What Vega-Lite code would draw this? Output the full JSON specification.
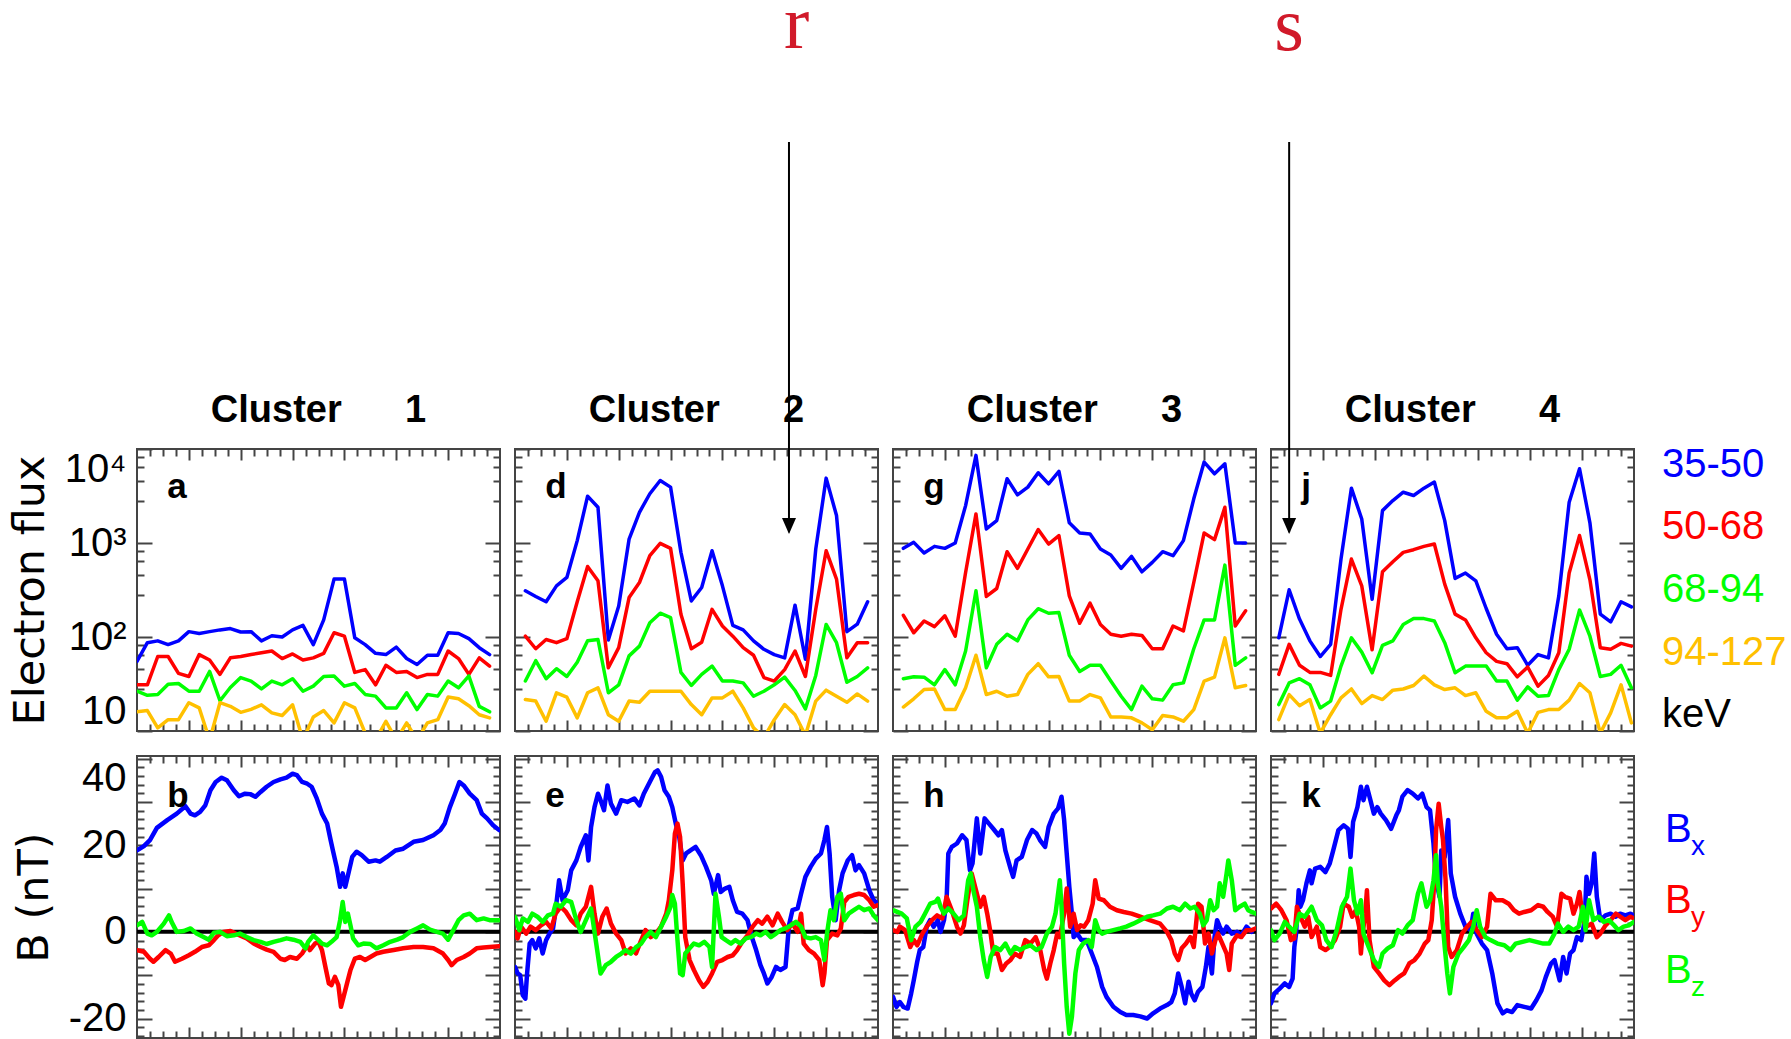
{
  "$schema": "https://vega.github.io/schema/vega-lite/v6.json",
  "autosize": {"type": "none"},
  "padding": {"left": 137, "top": 449, "right": 1654, "bottom": 590},
  "background": "#ffffff",
  "config": {
    "view": {"stroke": "#444444", "strokeWidth": 2},
    "axis": {"domain": false, "grid": false, "tickColor": "#444444", "tickWidth": 2, "labelFont": "Liberation Sans, Arial, sans-serif", "labelFontSize": 40, "labelColor": "#000000", "labelOverlap": false, "labelBound": false, "titleFont": "DejaVu Sans", "titleFontSize": 43, "titleFontWeight": "normal", "titleColor": "#000000"},
    "line": {"strokeJoin": "round", "strokeCap": "round"}
  },
  "datasets": {
    "flux1": [
      {"t":0,"e35":55,"e50":31,"e68":26.5,"e94":16},{"t":12,"e35":87,"e50":31,"e68":24,"e94":16.5},{"t":24,"e35":91,"e50":62,"e68":24.5,"e94":10.8},{"t":36,"e35":83,"e50":62,"e68":31.5,"e94":13.2},{"t":48,"e35":91,"e50":41,"e68":32,"e94":13.2},{"t":60,"e35":114,"e50":38,"e68":26.5,"e94":20},{"t":72,"e35":109,"e50":65,"e68":26.5,"e94":17.6},{"t":84,"e35":114,"e50":57,"e68":43,"e94":8},{"t":96,"e35":119,"e50":40,"e68":21,"e94":20},{"t":108,"e35":123,"e50":60,"e68":29,"e94":18.3},{"t":120,"e35":113,"e50":62,"e68":37,"e94":15.8},{"t":132,"e35":114,"e50":65,"e68":34,"e94":17},{"t":144,"e35":91,"e50":68,"e68":28,"e94":19},{"t":156,"e35":103,"e50":71,"e68":34,"e94":15.6},{"t":168,"e35":100,"e50":59,"e68":31,"e94":14.6},{"t":180,"e35":119,"e50":66,"e68":36,"e94":19},{"t":192,"e35":133,"e50":57,"e68":26.5,"e94":8},{"t":204,"e35":83,"e50":60,"e68":30,"e94":14.1},{"t":216,"e35":152,"e50":67,"e68":38,"e94":16.5},{"t":228,"e35":413,"e50":111,"e68":38.5,"e94":12.2},{"t":240,"e35":413,"e50":102,"e68":30,"e94":20},{"t":252,"e35":98,"e50":42,"e68":32,"e94":17.6},{"t":264,"e35":83,"e50":45,"e68":24.5,"e94":9.5},{"t":276,"e35":67,"e50":31,"e68":23.5,"e94":8},{"t":288,"e35":65,"e50":50,"e68":17.6,"e94":12.7},{"t":300,"e35":78,"e50":42,"e68":17.6,"e94":8},{"t":312,"e35":59,"e50":43,"e68":25.5,"e94":12.2},{"t":324,"e35":51,"e50":37,"e68":16.9,"e94":8},{"t":336,"e35":64,"e50":40,"e68":24.5,"e94":12.2},{"t":348,"e35":64,"e50":40,"e68":23.5,"e94":13.2},{"t":360,"e35":111,"e50":71,"e68":34,"e94":23},{"t":372,"e35":109,"e50":59,"e68":28.8,"e94":22},{"t":384,"e35":96,"e50":40,"e68":38.5,"e94":18.6},{"t":396,"e35":77,"e50":60,"e68":18.3,"e94":14.9},{"t":408,"e35":65,"e50":49,"e68":16,"e94":13.8}
    ],
    "flux2": [
      {"t":12,"e35":310,"e50":102,"e68":34,"e94":21.6},{"t":24,"e35":270,"e50":75,"e68":56,"e94":20.8},{"t":36,"e35":237,"e50":94,"e68":36,"e94":12.7},{"t":48,"e35":350,"e50":87,"e68":46,"e94":25.5},{"t":60,"e35":430,"e50":96,"e68":38,"e94":22.9},{"t":72,"e35":1060,"e50":237,"e68":54,"e94":13.8},{"t":84,"e35":3150,"e50":563,"e68":91,"e94":25.5},{"t":96,"e35":2400,"e50":396,"e68":94,"e94":28.8},{"t":108,"e35":93,"e50":47,"e68":25.5,"e94":14.9},{"t":120,"e35":214,"e50":77,"e68":31,"e94":12.7},{"t":132,"e35":1100,"e50":263,"e68":63,"e94":20.8},{"t":144,"e35":2120,"e50":380,"e68":80,"e94":20.2},{"t":156,"e35":3340,"e50":733,"e68":142,"e94":26.5},{"t":168,"e35":4620,"e50":991,"e68":179,"e94":26.5},{"t":180,"e35":3930,"e50":877,"e68":161,"e94":26.5},{"t":192,"e35":795,"e50":175,"e68":42,"e94":26.5},{"t":204,"e35":242,"e50":75,"e68":30.5,"e94":19.1},{"t":216,"e35":336,"e50":88,"e68":40,"e94":14.9},{"t":228,"e35":828,"e50":197,"e68":49,"e94":22.5},{"t":240,"e35":350,"e50":131,"e68":34,"e94":22.5},{"t":252,"e35":133,"e50":102,"e68":34,"e94":26.5},{"t":264,"e35":119,"e50":77,"e68":32.5,"e94":17.6},{"t":276,"e35":91,"e50":64,"e68":23.4,"e94":10.8},{"t":288,"e35":74,"e50":37,"e68":26.5,"e94":8.5},{"t":300,"e35":65,"e50":34,"e68":31,"e94":13.2},{"t":312,"e35":60,"e50":45,"e68":37.4,"e94":19.1},{"t":324,"e35":218,"e50":71,"e68":27,"e94":14.9},{"t":336,"e35":58,"e50":38,"e68":17.2,"e94":9},{"t":348,"e35":863,"e50":197,"e68":39,"e94":20.8},{"t":360,"e35":4900,"e50":828,"e68":136,"e94":27.2},{"t":372,"e35":1960,"e50":413,"e68":87,"e94":23.4},{"t":384,"e35":114,"e50":60,"e68":33,"e94":20.2},{"t":396,"e35":137,"e50":87,"e68":38,"e94":24.8},{"t":408,"e35":237,"e50":87,"e68":47,"e94":20.8}
    ],
    "flux3": [
      {"t":12,"e35":877,"e50":170,"e68":36,"e94":18},{"t":24,"e35":1016,"e50":111,"e68":37.7,"e94":22},{"t":36,"e35":782,"e50":148,"e68":37.4,"e94":27.6},{"t":48,"e35":921,"e50":129,"e68":31,"e94":28},{"t":60,"e35":877,"e50":168,"e68":45,"e94":16.9},{"t":72,"e35":1000,"e50":102,"e68":31,"e94":16.9},{"t":84,"e35":2500,"e50":486,"e68":71,"e94":28.8},{"t":96,"e35":8550,"e50":2040,"e68":310,"e94":64},{"t":108,"e35":1410,"e50":270,"e68":47,"e94":24.4},{"t":120,"e35":1730,"e50":328,"e68":83.5,"e94":26.5},{"t":132,"e35":4820,"e50":808,"e68":107,"e94":23.4},{"t":144,"e35":3250,"e50":537,"e68":91,"e94":24.4},{"t":156,"e35":3930,"e50":863,"e68":152,"e94":40},{"t":168,"e35":5590,"e50":1390,"e68":200,"e94":52},{"t":180,"e35":4260,"e50":975,"e68":179,"e94":37.7},{"t":192,"e35":5780,"e50":1200,"e68":182,"e94":38},{"t":204,"e35":1640,"e50":274,"e68":64,"e94":20.8},{"t":216,"e35":1280,"e50":140,"e68":43,"e94":20.8},{"t":228,"e35":1250,"e50":229,"e68":50,"e94":24.4},{"t":240,"e35":863,"e50":136,"e68":50,"e94":22.5},{"t":252,"e35":745,"e50":107,"e68":34,"e94":14.1},{"t":264,"e35":537,"e50":102,"e68":23.4,"e94":14.1},{"t":276,"e35":721,"e50":107,"e68":16.9,"e94":13.8},{"t":288,"e35":494,"e50":104,"e68":30,"e94":12.2},{"t":300,"e35":622,"e50":75,"e68":22,"e94":10.3},{"t":312,"e35":808,"e50":75,"e68":21.3,"e94":14.6},{"t":324,"e35":733,"e50":131,"e68":31,"e94":14.1},{"t":336,"e35":1060,"e50":116,"e68":32.5,"e94":12.7},{"t":348,"e35":2950,"e50":380,"e68":75,"e94":16.9},{"t":360,"e35":7260,"e50":1280,"e68":152,"e94":34},{"t":372,"e35":5450,"e50":1086,"e68":152,"e94":37.4},{"t":384,"e35":6970,"e50":2400,"e68":582,"e94":98},{"t":396,"e35":1000,"e50":131,"e68":50,"e94":28.8},{"t":408,"e35":1000,"e50":190,"e68":60,"e94":30.5}
    ],
    "flux4": [
      {"t":9,"e35":98,"e50":40,"e68":19.1,"e94":13.2},{"t":21,"e35":318,"e50":83.5,"e68":32.5,"e94":24.4},{"t":33,"e35":155,"e50":50,"e68":36,"e94":18.6},{"t":45,"e35":91,"e50":42,"e68":31,"e94":21.6},{"t":57,"e35":62,"e50":42,"e68":17.6,"e94":9.5},{"t":69,"e35":83.5,"e50":39,"e68":20.8,"e94":14.9},{"t":81,"e35":675,"e50":197,"e68":49,"e94":22.5},{"t":93,"e35":3830,"e50":675,"e68":98,"e94":28},{"t":105,"e35":1800,"e50":350,"e68":69,"e94":19.6},{"t":117,"e35":252,"e50":73,"e68":41.6,"e94":23.8},{"t":129,"e35":2210,"e50":494,"e68":81.5,"e94":21.6},{"t":141,"e35":2830,"e50":632,"e68":91,"e94":27.2},{"t":153,"e35":3470,"e50":795,"e68":136,"e94":28},{"t":165,"e35":3200,"e50":849,"e68":157,"e94":30.5},{"t":177,"e35":3830,"e50":921,"e68":157,"e94":38.4},{"t":189,"e35":4450,"e50":975,"e68":148,"e94":31},{"t":201,"e35":1730,"e50":365,"e68":87,"e94":27.6},{"t":213,"e35":420,"e50":175,"e68":41.6,"e94":28.8},{"t":225,"e35":479,"e50":152,"e68":49,"e94":23.8},{"t":237,"e35":396,"e50":98,"e68":49,"e94":25.5},{"t":249,"e35":201,"e50":68,"e68":49,"e94":16.2},{"t":261,"e35":107,"e50":55,"e68":34,"e94":13.8},{"t":273,"e35":75,"e50":52,"e68":34,"e94":13.8},{"t":285,"e35":77,"e50":37.7,"e68":21.3,"e94":16.2},{"t":297,"e35":50,"e50":48,"e68":29.5,"e94":9.5},{"t":309,"e35":65,"e50":30,"e68":23.4,"e94":15.8},{"t":321,"e35":60,"e50":39,"e68":23.8,"e94":16.9},{"t":333,"e35":274,"e50":68,"e68":45,"e94":16.9},{"t":345,"e35":2720,"e50":479,"e68":74,"e94":21.3},{"t":357,"e35":6170,"e50":1200,"e68":194,"e94":32},{"t":369,"e35":1640,"e50":406,"e68":102,"e94":25.5},{"t":381,"e35":175,"e50":77,"e68":38,"e94":9.5},{"t":393,"e35":144.5,"e50":74,"e68":40,"e94":15.6},{"t":405,"e35":237,"e50":85.5,"e68":50,"e94":31},{"t":417,"e35":209,"e50":80,"e68":28.8,"e94":12.2}
    ],
    "mag1": [
      {"t":0,"c":"Bx","v":18.8},{"t":8,"c":"Bx","v":19.8},{"t":15,"c":"Bx","v":21.2},{"t":23,"c":"Bx","v":24},{"t":35,"c":"Bx","v":25.8},{"t":46,"c":"Bx","v":27.3},{"t":56,"c":"Bx","v":29},{"t":62,"c":"Bx","v":27.3},{"t":67,"c":"Bx","v":26.9},{"t":73,"c":"Bx","v":27.7},{"t":79,"c":"Bx","v":29.2},{"t":85,"c":"Bx","v":32.7},{"t":91,"c":"Bx","v":34.6},{"t":98,"c":"Bx","v":35.6},{"t":104,"c":"Bx","v":35},{"t":112,"c":"Bx","v":32.7},{"t":118,"c":"Bx","v":31.3},{"t":125,"c":"Bx","v":31.9},{"t":131,"c":"Bx","v":31.8},{"t":137,"c":"Bx","v":31.2},{"t":143,"c":"Bx","v":32.3},{"t":150,"c":"Bx","v":33.5},{"t":158,"c":"Bx","v":34.6},{"t":166,"c":"Bx","v":35.2},{"t":173,"c":"Bx","v":35.6},{"t":180,"c":"Bx","v":36.5},{"t":185,"c":"Bx","v":36.2},{"t":191,"c":"Bx","v":34.6},{"t":197,"c":"Bx","v":34.2},{"t":202,"c":"Bx","v":33.5},{"t":208,"c":"Bx","v":30.8},{"t":214,"c":"Bx","v":27.3},{"t":220,"c":"Bx","v":25},{"t":224,"c":"Bx","v":21.2},{"t":227,"c":"Bx","v":18.5},{"t":231,"c":"Bx","v":15},{"t":235,"c":"Bx","v":10.4},{"t":238,"c":"Bx","v":13.5},{"t":241,"c":"Bx","v":10.4},{"t":245,"c":"Bx","v":13.8},{"t":249,"c":"Bx","v":17.3},{"t":254,"c":"Bx","v":18.5},{"t":260,"c":"Bx","v":17.7},{"t":268,"c":"Bx","v":16.2},{"t":276,"c":"Bx","v":16.5},{"t":281,"c":"Bx","v":16.2},{"t":289,"c":"Bx","v":17.3},{"t":299,"c":"Bx","v":18.8},{"t":308,"c":"Bx","v":19.2},{"t":320,"c":"Bx","v":20.8},{"t":331,"c":"Bx","v":21.2},{"t":343,"c":"Bx","v":22.3},{"t":351,"c":"Bx","v":23.5},{"t":356,"c":"Bx","v":25},{"t":362,"c":"Bx","v":28.8},{"t":368,"c":"Bx","v":31.9},{"t":373,"c":"Bx","v":34.6},{"t":378,"c":"Bx","v":33.8},{"t":385,"c":"Bx","v":31.9},{"t":393,"c":"Bx","v":30.4},{"t":399,"c":"Bx","v":27.3},{"t":405,"c":"Bx","v":26.2},{"t":412,"c":"Bx","v":24.6},{"t":419,"c":"Bx","v":23.5},
      {"t":0,"c":"By","v":-4.2},{"t":8,"c":"By","v":-4.6},{"t":15,"c":"By","v":-6.2},{"t":19,"c":"By","v":-6.9},{"t":25,"c":"By","v":-5.8},{"t":33,"c":"By","v":-4.2},{"t":39,"c":"By","v":-5},{"t":44,"c":"By","v":-6.9},{"t":52,"c":"By","v":-6.2},{"t":60,"c":"By","v":-5.4},{"t":67,"c":"By","v":-4.6},{"t":75,"c":"By","v":-3.5},{"t":83,"c":"By","v":-3.1},{"t":89,"c":"By","v":-1.9},{"t":94,"c":"By","v":-0.8},{"t":100,"c":"By","v":0},{"t":108,"c":"By","v":0.2},{"t":114,"c":"By","v":-0.4},{"t":119,"c":"By","v":-0.8},{"t":127,"c":"By","v":-1.5},{"t":135,"c":"By","v":-2.7},{"t":143,"c":"By","v":-3.5},{"t":150,"c":"By","v":-4.1},{"t":158,"c":"By","v":-4.6},{"t":166,"c":"By","v":-6.2},{"t":171,"c":"By","v":-6.5},{"t":177,"c":"By","v":-5.8},{"t":185,"c":"By","v":-6.2},{"t":191,"c":"By","v":-5},{"t":197,"c":"By","v":-3.1},{"t":200,"c":"By","v":-4.2},{"t":206,"c":"By","v":-2.7},{"t":210,"c":"By","v":-2.3},{"t":214,"c":"By","v":-4.2},{"t":218,"c":"By","v":-8.1},{"t":222,"c":"By","v":-11.9},{"t":225,"c":"By","v":-12.3},{"t":229,"c":"By","v":-10.4},{"t":233,"c":"By","v":-12.3},{"t":236,"c":"By","v":-17.3},{"t":239,"c":"By","v":-15},{"t":243,"c":"By","v":-11.9},{"t":247,"c":"By","v":-8.8},{"t":252,"c":"By","v":-6.2},{"t":258,"c":"By","v":-5.8},{"t":264,"c":"By","v":-6.5},{"t":270,"c":"By","v":-5.8},{"t":277,"c":"By","v":-5},{"t":285,"c":"By","v":-4.6},{"t":297,"c":"By","v":-4.2},{"t":308,"c":"By","v":-3.8},{"t":320,"c":"By","v":-3.5},{"t":331,"c":"By","v":-3.5},{"t":343,"c":"By","v":-3.8},{"t":354,"c":"By","v":-5},{"t":360,"c":"By","v":-6.5},{"t":364,"c":"By","v":-7.7},{"t":370,"c":"By","v":-6.5},{"t":378,"c":"By","v":-5.8},{"t":385,"c":"By","v":-5},{"t":393,"c":"By","v":-3.8},{"t":401,"c":"By","v":-3.6},{"t":408,"c":"By","v":-3.5},{"t":419,"c":"By","v":-3.3},
      {"t":0,"c":"Bz","v":1.5},{"t":6,"c":"Bz","v":2.3},{"t":12,"c":"Bz","v":-0.4},{"t":17,"c":"Bz","v":-0.8},{"t":23,"c":"Bz","v":0},{"t":31,"c":"Bz","v":1.9},{"t":37,"c":"Bz","v":3.8},{"t":40,"c":"Bz","v":2.3},{"t":46,"c":"Bz","v":0},{"t":54,"c":"Bz","v":0.2},{"t":62,"c":"Bz","v":0.8},{"t":69,"c":"Bz","v":-0.4},{"t":77,"c":"Bz","v":-1.2},{"t":83,"c":"Bz","v":-1.8},{"t":89,"c":"Bz","v":-0.2},{"t":96,"c":"Bz","v":0},{"t":104,"c":"Bz","v":-1},{"t":112,"c":"Bz","v":-0.8},{"t":119,"c":"Bz","v":-0.4},{"t":127,"c":"Bz","v":-1.2},{"t":135,"c":"Bz","v":-1.9},{"t":143,"c":"Bz","v":-2.3},{"t":150,"c":"Bz","v":-2.8},{"t":158,"c":"Bz","v":-2.3},{"t":166,"c":"Bz","v":-1.9},{"t":173,"c":"Bz","v":-1.5},{"t":181,"c":"Bz","v":-1.8},{"t":189,"c":"Bz","v":-2.3},{"t":195,"c":"Bz","v":-3.8},{"t":198,"c":"Bz","v":-2.3},{"t":204,"c":"Bz","v":-0.8},{"t":210,"c":"Bz","v":-1.9},{"t":214,"c":"Bz","v":-2.7},{"t":220,"c":"Bz","v":-3.1},{"t":225,"c":"Bz","v":-2.3},{"t":231,"c":"Bz","v":-1.2},{"t":235,"c":"Bz","v":2.7},{"t":238,"c":"Bz","v":6.9},{"t":241,"c":"Bz","v":2.3},{"t":244,"c":"Bz","v":4.2},{"t":247,"c":"Bz","v":1.5},{"t":250,"c":"Bz","v":-1.5},{"t":256,"c":"Bz","v":-3.1},{"t":262,"c":"Bz","v":-2.7},{"t":270,"c":"Bz","v":-2.8},{"t":277,"c":"Bz","v":-3.8},{"t":285,"c":"Bz","v":-3.1},{"t":293,"c":"Bz","v":-2.3},{"t":301,"c":"Bz","v":-1.8},{"t":308,"c":"Bz","v":-1.2},{"t":316,"c":"Bz","v":0},{"t":324,"c":"Bz","v":0.8},{"t":331,"c":"Bz","v":1.5},{"t":339,"c":"Bz","v":0.5},{"t":347,"c":"Bz","v":0},{"t":354,"c":"Bz","v":-0.4},{"t":360,"c":"Bz","v":-1.8},{"t":366,"c":"Bz","v":0.4},{"t":372,"c":"Bz","v":2.7},{"t":378,"c":"Bz","v":3.8},{"t":385,"c":"Bz","v":4.2},{"t":393,"c":"Bz","v":2.7},{"t":401,"c":"Bz","v":3.1},{"t":408,"c":"Bz","v":2.7},{"t":419,"c":"Bz","v":2.7}
    ],
    "mag2": [
      {"t":0,"c":"Bx","v":-8.1},{"t":3,"c":"Bx","v":-9.6},{"t":6,"c":"Bx","v":-10},{"t":9,"c":"Bx","v":-14.6},{"t":12,"c":"Bx","v":-15.4},{"t":14,"c":"Bx","v":-9.6},{"t":17,"c":"Bx","v":-2.7},{"t":20,"c":"Bx","v":-1.9},{"t":24,"c":"Bx","v":-3.8},{"t":28,"c":"Bx","v":-1.5},{"t":32,"c":"Bx","v":-5},{"t":36,"c":"Bx","v":-1.9},{"t":40,"c":"Bx","v":-0.4},{"t":44,"c":"Bx","v":0.8},{"t":47,"c":"Bx","v":5},{"t":51,"c":"Bx","v":11.9},{"t":55,"c":"Bx","v":7.3},{"t":61,"c":"Bx","v":9.6},{"t":65,"c":"Bx","v":14.2},{"t":71,"c":"Bx","v":16.5},{"t":76,"c":"Bx","v":19.6},{"t":82,"c":"Bx","v":22.3},{"t":85,"c":"Bx","v":16.5},{"t":88,"c":"Bx","v":24.2},{"t":92,"c":"Bx","v":28.8},{"t":96,"c":"Bx","v":31.9},{"t":99,"c":"Bx","v":30.4},{"t":103,"c":"Bx","v":28.1},{"t":107,"c":"Bx","v":33.8},{"t":111,"c":"Bx","v":29.6},{"t":117,"c":"Bx","v":27.3},{"t":123,"c":"Bx","v":30.4},{"t":130,"c":"Bx","v":30},{"t":138,"c":"Bx","v":30.8},{"t":144,"c":"Bx","v":29.2},{"t":149,"c":"Bx","v":31.9},{"t":157,"c":"Bx","v":35},{"t":162,"c":"Bx","v":36.9},{"t":165,"c":"Bx","v":37.3},{"t":169,"c":"Bx","v":35.8},{"t":173,"c":"Bx","v":32.7},{"t":178,"c":"Bx","v":31.2},{"t":182,"c":"Bx","v":28.8},{"t":186,"c":"Bx","v":25},{"t":190,"c":"Bx","v":21.9},{"t":194,"c":"Bx","v":16.5},{"t":198,"c":"Bx","v":18.1},{"t":203,"c":"Bx","v":18.8},{"t":209,"c":"Bx","v":19.6},{"t":215,"c":"Bx","v":17.7},{"t":221,"c":"Bx","v":15},{"t":227,"c":"Bx","v":11.9},{"t":230,"c":"Bx","v":8.8},{"t":235,"c":"Bx","v":13.1},{"t":238,"c":"Bx","v":9.2},{"t":243,"c":"Bx","v":10},{"t":248,"c":"Bx","v":10.4},{"t":252,"c":"Bx","v":7.3},{"t":257,"c":"Bx","v":4.6},{"t":263,"c":"Bx","v":4.2},{"t":269,"c":"Bx","v":2.7},{"t":274,"c":"Bx","v":-1.2},{"t":279,"c":"Bx","v":-4.2},{"t":284,"c":"Bx","v":-7.7},{"t":288,"c":"Bx","v":-9.6},{"t":292,"c":"Bx","v":-11.9},{"t":297,"c":"Bx","v":-10.4},{"t":302,"c":"Bx","v":-8.1},{"t":307,"c":"Bx","v":-8.8},{"t":313,"c":"Bx","v":-8.1},{"t":317,"c":"Bx","v":1.5},{"t":321,"c":"Bx","v":5},{"t":327,"c":"Bx","v":5.4},{"t":331,"c":"Bx","v":8.8},{"t":336,"c":"Bx","v":12.7},{"t":342,"c":"Bx","v":15},{"t":348,"c":"Bx","v":16.9},{"t":354,"c":"Bx","v":18.1},{"t":358,"c":"Bx","v":21.2},{"t":361,"c":"Bx","v":24.2},{"t":364,"c":"Bx","v":18.1},{"t":367,"c":"Bx","v":8.1},{"t":371,"c":"Bx","v":2.7},{"t":375,"c":"Bx","v":9.6},{"t":379,"c":"Bx","v":13.5},{"t":385,"c":"Bx","v":16.5},{"t":390,"c":"Bx","v":17.7},{"t":394,"c":"Bx","v":14.2},{"t":398,"c":"Bx","v":15.4},{"t":404,"c":"Bx","v":13.5},{"t":410,"c":"Bx","v":9.6},{"t":415,"c":"Bx","v":7.3},{"t":420,"c":"Bx","v":6.5},
      {"t":0,"c":"By","v":0},{"t":3,"c":"By","v":-1.5},{"t":7,"c":"By","v":1.2},{"t":13,"c":"By","v":-0.4},{"t":18,"c":"By","v":1.2},{"t":24,"c":"By","v":0.4},{"t":30,"c":"By","v":1.5},{"t":36,"c":"By","v":2.3},{"t":42,"c":"By","v":0.8},{"t":47,"c":"By","v":4.2},{"t":53,"c":"By","v":5.8},{"t":59,"c":"By","v":4.6},{"t":65,"c":"By","v":2.7},{"t":71,"c":"By","v":1.5},{"t":76,"c":"By","v":4.2},{"t":82,"c":"By","v":5.8},{"t":88,"c":"By","v":10.4},{"t":92,"c":"By","v":4.2},{"t":96,"c":"By","v":-0.4},{"t":101,"c":"By","v":3.5},{"t":106,"c":"By","v":5.4},{"t":111,"c":"By","v":1.9},{"t":117,"c":"By","v":-0.4},{"t":123,"c":"By","v":-1.9},{"t":128,"c":"By","v":-5},{"t":134,"c":"By","v":-3.8},{"t":140,"c":"By","v":-5},{"t":146,"c":"By","v":-1.9},{"t":151,"c":"By","v":0.4},{"t":157,"c":"By","v":-1.2},{"t":163,"c":"By","v":-0.4},{"t":169,"c":"By","v":1.2},{"t":175,"c":"By","v":4.2},{"t":178,"c":"By","v":7.3},{"t":182,"c":"By","v":14.2},{"t":185,"c":"By","v":22.7},{"t":188,"c":"By","v":25},{"t":191,"c":"By","v":21.9},{"t":194,"c":"By","v":11.2},{"t":197,"c":"By","v":-1.2},{"t":202,"c":"By","v":-6.5},{"t":207,"c":"By","v":-8.8},{"t":213,"c":"By","v":-11.2},{"t":218,"c":"By","v":-12.7},{"t":223,"c":"By","v":-11.5},{"t":228,"c":"By","v":-9.6},{"t":234,"c":"By","v":-6.9},{"t":240,"c":"By","v":-6.5},{"t":246,"c":"By","v":-5.8},{"t":252,"c":"By","v":-5.4},{"t":257,"c":"By","v":-4.2},{"t":263,"c":"By","v":-2.3},{"t":269,"c":"By","v":-0.8},{"t":275,"c":"By","v":1.2},{"t":281,"c":"By","v":2.7},{"t":286,"c":"By","v":1.9},{"t":292,"c":"By","v":3.5},{"t":298,"c":"By","v":1.5},{"t":304,"c":"By","v":4.2},{"t":309,"c":"By","v":2.3},{"t":315,"c":"By","v":0.4},{"t":321,"c":"By","v":1.9},{"t":327,"c":"By","v":0},{"t":331,"c":"By","v":4.2},{"t":334,"c":"By","v":-2.7},{"t":340,"c":"By","v":-4.2},{"t":346,"c":"By","v":-5},{"t":352,"c":"By","v":-6.5},{"t":356,"c":"By","v":-12.3},{"t":358,"c":"By","v":-9.6},{"t":361,"c":"By","v":-1.9},{"t":367,"c":"By","v":-0.4},{"t":373,"c":"By","v":-0.8},{"t":377,"c":"By","v":0.8},{"t":381,"c":"By","v":6.9},{"t":386,"c":"By","v":8.1},{"t":392,"c":"By","v":8.5},{"t":398,"c":"By","v":8.8},{"t":404,"c":"By","v":8.5},{"t":410,"c":"By","v":7.3},{"t":415,"c":"By","v":5.8},{"t":420,"c":"By","v":6.2},
      {"t":0,"c":"Bz","v":3.5},{"t":5,"c":"Bz","v":0.4},{"t":9,"c":"Bz","v":3.1},{"t":15,"c":"Bz","v":2.3},{"t":20,"c":"Bz","v":4.2},{"t":26,"c":"Bz","v":3.5},{"t":32,"c":"Bz","v":2.3},{"t":38,"c":"Bz","v":3.8},{"t":44,"c":"Bz","v":4.2},{"t":47,"c":"Bz","v":6.5},{"t":53,"c":"Bz","v":5.8},{"t":59,"c":"Bz","v":7.3},{"t":65,"c":"Bz","v":6.9},{"t":71,"c":"Bz","v":2.7},{"t":76,"c":"Bz","v":0},{"t":82,"c":"Bz","v":2.7},{"t":88,"c":"Bz","v":5.4},{"t":94,"c":"Bz","v":-2.7},{"t":99,"c":"Bz","v":-9.6},{"t":105,"c":"Bz","v":-7.7},{"t":111,"c":"Bz","v":-6.9},{"t":117,"c":"Bz","v":-5.8},{"t":123,"c":"Bz","v":-5},{"t":128,"c":"Bz","v":-4.2},{"t":134,"c":"Bz","v":-5},{"t":140,"c":"Bz","v":-3.5},{"t":146,"c":"Bz","v":-2.7},{"t":151,"c":"Bz","v":-1.2},{"t":157,"c":"Bz","v":0},{"t":163,"c":"Bz","v":-1.2},{"t":169,"c":"Bz","v":1.2},{"t":175,"c":"Bz","v":3.5},{"t":180,"c":"Bz","v":5.8},{"t":182,"c":"Bz","v":8.5},{"t":185,"c":"Bz","v":6.5},{"t":188,"c":"Bz","v":-1.9},{"t":191,"c":"Bz","v":-9.6},{"t":194,"c":"Bz","v":-10},{"t":197,"c":"Bz","v":-5},{"t":202,"c":"Bz","v":-3.8},{"t":207,"c":"Bz","v":-2.7},{"t":213,"c":"Bz","v":-3.1},{"t":219,"c":"Bz","v":-2.3},{"t":225,"c":"Bz","v":-3.5},{"t":228,"c":"Bz","v":-8.1},{"t":232,"c":"Bz","v":8.8},{"t":236,"c":"Bz","v":3.5},{"t":239,"c":"Bz","v":-1.2},{"t":244,"c":"Bz","v":-1.9},{"t":250,"c":"Bz","v":-2.7},{"t":255,"c":"Bz","v":-1.9},{"t":261,"c":"Bz","v":-2.7},{"t":267,"c":"Bz","v":-1.5},{"t":273,"c":"Bz","v":-1.2},{"t":279,"c":"Bz","v":-0.4},{"t":284,"c":"Bz","v":-0.8},{"t":290,"c":"Bz","v":0},{"t":296,"c":"Bz","v":-1.2},{"t":302,"c":"Bz","v":-0.4},{"t":307,"c":"Bz","v":0.4},{"t":313,"c":"Bz","v":0.8},{"t":319,"c":"Bz","v":1.5},{"t":325,"c":"Bz","v":2.3},{"t":331,"c":"Bz","v":1.2},{"t":336,"c":"Bz","v":-1.2},{"t":342,"c":"Bz","v":-1.5},{"t":348,"c":"Bz","v":-1.2},{"t":354,"c":"Bz","v":-1.9},{"t":358,"c":"Bz","v":-6.5},{"t":361,"c":"Bz","v":-0.4},{"t":365,"c":"Bz","v":5},{"t":369,"c":"Bz","v":2.7},{"t":373,"c":"Bz","v":8.1},{"t":377,"c":"Bz","v":8.8},{"t":381,"c":"Bz","v":2.7},{"t":386,"c":"Bz","v":4.2},{"t":392,"c":"Bz","v":5},{"t":398,"c":"Bz","v":5.8},{"t":404,"c":"Bz","v":5},{"t":410,"c":"Bz","v":5.4},{"t":415,"c":"Bz","v":3.8},{"t":420,"c":"Bz","v":2.7}
    ],
    "mag3": [
      {"t":0,"c":"Bx","v":-15},{"t":4,"c":"Bx","v":-17.3},{"t":8,"c":"Bx","v":-16.2},{"t":12,"c":"Bx","v":-17.3},{"t":17,"c":"Bx","v":-17.7},{"t":21,"c":"Bx","v":-14.2},{"t":24,"c":"Bx","v":-11.2},{"t":28,"c":"Bx","v":-6.9},{"t":31,"c":"Bx","v":-4.2},{"t":35,"c":"Bx","v":-3.5},{"t":39,"c":"Bx","v":1.2},{"t":43,"c":"Bx","v":2.7},{"t":47,"c":"Bx","v":1.2},{"t":52,"c":"Bx","v":2.7},{"t":55,"c":"Bx","v":0},{"t":59,"c":"Bx","v":2.7},{"t":62,"c":"Bx","v":7.3},{"t":64,"c":"Bx","v":18.1},{"t":68,"c":"Bx","v":19.6},{"t":74,"c":"Bx","v":20.4},{"t":80,"c":"Bx","v":22.3},{"t":85,"c":"Bx","v":21.2},{"t":89,"c":"Bx","v":14.2},{"t":92,"c":"Bx","v":15.8},{"t":97,"c":"Bx","v":26.2},{"t":101,"c":"Bx","v":18.1},{"t":106,"c":"Bx","v":26.2},{"t":111,"c":"Bx","v":25},{"t":116,"c":"Bx","v":23.8},{"t":122,"c":"Bx","v":22.3},{"t":126,"c":"Bx","v":23.5},{"t":130,"c":"Bx","v":18.8},{"t":136,"c":"Bx","v":14.6},{"t":139,"c":"Bx","v":12.7},{"t":143,"c":"Bx","v":16.5},{"t":149,"c":"Bx","v":17.3},{"t":155,"c":"Bx","v":21.2},{"t":161,"c":"Bx","v":23.5},{"t":166,"c":"Bx","v":22.7},{"t":170,"c":"Bx","v":21.2},{"t":176,"c":"Bx","v":19.6},{"t":180,"c":"Bx","v":24.2},{"t":186,"c":"Bx","v":27.3},{"t":191,"c":"Bx","v":28.5},{"t":195,"c":"Bx","v":31.2},{"t":198,"c":"Bx","v":25.8},{"t":201,"c":"Bx","v":18.1},{"t":204,"c":"Bx","v":10.4},{"t":207,"c":"Bx","v":4.2},{"t":209,"c":"Bx","v":-1.2},{"t":213,"c":"Bx","v":-0.4},{"t":218,"c":"Bx","v":-1.9},{"t":224,"c":"Bx","v":-1.9},{"t":230,"c":"Bx","v":-5},{"t":236,"c":"Bx","v":-8.1},{"t":242,"c":"Bx","v":-12.7},{"t":247,"c":"Bx","v":-15},{"t":255,"c":"Bx","v":-17.3},{"t":263,"c":"Bx","v":-18.5},{"t":270,"c":"Bx","v":-19.2},{"t":278,"c":"Bx","v":-19.2},{"t":286,"c":"Bx","v":-19.5},{"t":294,"c":"Bx","v":-20},{"t":301,"c":"Bx","v":-18.8},{"t":309,"c":"Bx","v":-17.7},{"t":317,"c":"Bx","v":-16.9},{"t":322,"c":"Bx","v":-16.2},{"t":326,"c":"Bx","v":-14.2},{"t":330,"c":"Bx","v":-9.6},{"t":334,"c":"Bx","v":-12.7},{"t":338,"c":"Bx","v":-16.5},{"t":342,"c":"Bx","v":-11.5},{"t":345,"c":"Bx","v":-14.2},{"t":349,"c":"Bx","v":-15.8},{"t":353,"c":"Bx","v":-13.8},{"t":358,"c":"Bx","v":-12.7},{"t":362,"c":"Bx","v":-8.1},{"t":365,"c":"Bx","v":-3.5},{"t":369,"c":"Bx","v":-9.6},{"t":372,"c":"Bx","v":-1.2},{"t":375,"c":"Bx","v":2.7},{"t":378,"c":"Bx","v":1.2},{"t":382,"c":"Bx","v":-0.4},{"t":386,"c":"Bx","v":1.2},{"t":392,"c":"Bx","v":-0.4},{"t":398,"c":"Bx","v":0},{"t":403,"c":"Bx","v":-0.8},{"t":409,"c":"Bx","v":1.2},{"t":415,"c":"Bx","v":0},
      {"t":0,"c":"By","v":0.4},{"t":5,"c":"By","v":0},{"t":8,"c":"By","v":1.2},{"t":14,"c":"By","v":0.4},{"t":20,"c":"By","v":-3.5},{"t":24,"c":"By","v":-1.9},{"t":28,"c":"By","v":-3.1},{"t":34,"c":"By","v":-0.4},{"t":39,"c":"By","v":1.2},{"t":45,"c":"By","v":2.7},{"t":51,"c":"By","v":3.8},{"t":57,"c":"By","v":3.1},{"t":62,"c":"By","v":8.1},{"t":68,"c":"By","v":5},{"t":74,"c":"By","v":1.2},{"t":78,"c":"By","v":-0.4},{"t":82,"c":"By","v":1.5},{"t":86,"c":"By","v":7.3},{"t":91,"c":"By","v":13.5},{"t":95,"c":"By","v":10.4},{"t":101,"c":"By","v":5.8},{"t":105,"c":"By","v":8.1},{"t":109,"c":"By","v":4.2},{"t":113,"c":"By","v":-0.4},{"t":116,"c":"By","v":-5},{"t":121,"c":"By","v":-5},{"t":126,"c":"By","v":-8.8},{"t":131,"c":"By","v":-7.3},{"t":136,"c":"By","v":-6.5},{"t":141,"c":"By","v":-5},{"t":147,"c":"By","v":-5.8},{"t":153,"c":"By","v":-1.9},{"t":159,"c":"By","v":-2.7},{"t":165,"c":"By","v":-1.2},{"t":170,"c":"By","v":-3.8},{"t":175,"c":"By","v":-8.8},{"t":178,"c":"By","v":-10.8},{"t":182,"c":"By","v":-7.3},{"t":186,"c":"By","v":-4.2},{"t":190,"c":"By","v":-0.4},{"t":193,"c":"By","v":-1.2},{"t":198,"c":"By","v":4.2},{"t":201,"c":"By","v":10},{"t":205,"c":"By","v":1.2},{"t":209,"c":"By","v":4.2},{"t":213,"c":"By","v":0.4},{"t":217,"c":"By","v":1.5},{"t":221,"c":"By","v":1.2},{"t":226,"c":"By","v":2.7},{"t":231,"c":"By","v":6.5},{"t":234,"c":"By","v":11.9},{"t":238,"c":"By","v":7.7},{"t":244,"c":"By","v":7.3},{"t":251,"c":"By","v":5.8},{"t":259,"c":"By","v":5},{"t":267,"c":"By","v":4.6},{"t":276,"c":"By","v":4.2},{"t":286,"c":"By","v":3.5},{"t":297,"c":"By","v":2.7},{"t":309,"c":"By","v":1.9},{"t":317,"c":"By","v":0},{"t":322,"c":"By","v":-1.9},{"t":326,"c":"By","v":-5},{"t":330,"c":"By","v":-6.5},{"t":334,"c":"By","v":-3.8},{"t":339,"c":"By","v":-2.7},{"t":344,"c":"By","v":-1.2},{"t":348,"c":"By","v":-3.5},{"t":353,"c":"By","v":6.5},{"t":357,"c":"By","v":5.8},{"t":361,"c":"By","v":-2.7},{"t":365,"c":"By","v":-0.4},{"t":369,"c":"By","v":-5},{"t":373,"c":"By","v":-1.9},{"t":376,"c":"By","v":-0.4},{"t":381,"c":"By","v":-2.7},{"t":386,"c":"By","v":-5},{"t":389,"c":"By","v":-8.8},{"t":392,"c":"By","v":-2.7},{"t":398,"c":"By","v":-0.8},{"t":403,"c":"By","v":-1.2},{"t":409,"c":"By","v":0.4},{"t":415,"c":"By","v":0.4},{"t":420,"c":"By","v":0.8},
      {"t":0,"c":"Bz","v":5},{"t":5,"c":"Bz","v":4.6},{"t":10,"c":"Bz","v":4.2},{"t":16,"c":"Bz","v":3.1},{"t":21,"c":"Bz","v":-1.9},{"t":26,"c":"Bz","v":1.2},{"t":32,"c":"Bz","v":2.3},{"t":37,"c":"Bz","v":4.2},{"t":43,"c":"Bz","v":6.5},{"t":49,"c":"Bz","v":6.9},{"t":52,"c":"Bz","v":7.7},{"t":55,"c":"Bz","v":5.8},{"t":59,"c":"Bz","v":4.2},{"t":64,"c":"Bz","v":5.4},{"t":70,"c":"Bz","v":4.2},{"t":76,"c":"Bz","v":2.7},{"t":82,"c":"Bz","v":3.8},{"t":87,"c":"Bz","v":11.9},{"t":90,"c":"Bz","v":13.5},{"t":93,"c":"Bz","v":9.6},{"t":97,"c":"Bz","v":5.8},{"t":101,"c":"Bz","v":-1.2},{"t":105,"c":"Bz","v":-6.5},{"t":109,"c":"Bz","v":-10.4},{"t":113,"c":"Bz","v":-5.8},{"t":118,"c":"Bz","v":-3.5},{"t":124,"c":"Bz","v":-4.2},{"t":130,"c":"Bz","v":-2.7},{"t":136,"c":"Bz","v":-5},{"t":141,"c":"Bz","v":-3.5},{"t":147,"c":"Bz","v":-4.2},{"t":153,"c":"Bz","v":-3.5},{"t":159,"c":"Bz","v":-3.1},{"t":166,"c":"Bz","v":-4.2},{"t":172,"c":"Bz","v":-3.5},{"t":178,"c":"Bz","v":-0.4},{"t":184,"c":"Bz","v":1.2},{"t":188,"c":"Bz","v":4.2},{"t":193,"c":"Bz","v":11.9},{"t":195,"c":"Bz","v":5.8},{"t":198,"c":"Bz","v":-7.3},{"t":201,"c":"Bz","v":-17.3},{"t":204,"c":"Bz","v":-23.5},{"t":207,"c":"Bz","v":-19.6},{"t":211,"c":"Bz","v":-9.6},{"t":215,"c":"Bz","v":-4.2},{"t":220,"c":"Bz","v":-2.7},{"t":226,"c":"Bz","v":-1.9},{"t":230,"c":"Bz","v":-3.5},{"t":234,"c":"Bz","v":2.7},{"t":238,"c":"Bz","v":0.4},{"t":242,"c":"Bz","v":-0.4},{"t":247,"c":"Bz","v":0},{"t":255,"c":"Bz","v":0.4},{"t":263,"c":"Bz","v":0.8},{"t":270,"c":"Bz","v":1.2},{"t":278,"c":"Bz","v":1.9},{"t":286,"c":"Bz","v":2.7},{"t":294,"c":"Bz","v":3.5},{"t":301,"c":"Bz","v":3.8},{"t":309,"c":"Bz","v":4.2},{"t":317,"c":"Bz","v":5.4},{"t":324,"c":"Bz","v":5.8},{"t":332,"c":"Bz","v":5},{"t":338,"c":"Bz","v":6.5},{"t":344,"c":"Bz","v":5.4},{"t":349,"c":"Bz","v":5.8},{"t":355,"c":"Bz","v":4.2},{"t":359,"c":"Bz","v":1.5},{"t":363,"c":"Bz","v":2.7},{"t":367,"c":"Bz","v":7.3},{"t":371,"c":"Bz","v":5},{"t":375,"c":"Bz","v":5.8},{"t":378,"c":"Bz","v":11.2},{"t":382,"c":"Bz","v":8.1},{"t":386,"c":"Bz","v":13.5},{"t":388,"c":"Bz","v":16.5},{"t":392,"c":"Bz","v":11.9},{"t":396,"c":"Bz","v":5},{"t":401,"c":"Bz","v":5.8},{"t":407,"c":"Bz","v":6.5},{"t":411,"c":"Bz","v":5},{"t":415,"c":"Bz","v":4.6},{"t":420,"c":"Bz","v":4.2}
    ],
    "mag4": [
      {"t":0,"c":"Bx","v":-16.5},{"t":4,"c":"Bx","v":-14.2},{"t":10,"c":"Bx","v":-13.1},{"t":16,"c":"Bx","v":-11.9},{"t":21,"c":"Bx","v":-12.7},{"t":25,"c":"Bx","v":-10.8},{"t":27,"c":"Bx","v":-3.5},{"t":29,"c":"Bx","v":-0.4},{"t":32,"c":"Bx","v":9.6},{"t":34,"c":"Bx","v":5.8},{"t":37,"c":"Bx","v":7.3},{"t":41,"c":"Bx","v":11.2},{"t":45,"c":"Bx","v":14.2},{"t":47,"c":"Bx","v":11.2},{"t":51,"c":"Bx","v":14.6},{"t":57,"c":"Bx","v":15},{"t":63,"c":"Bx","v":13.8},{"t":68,"c":"Bx","v":15.8},{"t":72,"c":"Bx","v":18.8},{"t":78,"c":"Bx","v":23.5},{"t":84,"c":"Bx","v":24.6},{"t":89,"c":"Bx","v":23.8},{"t":92,"c":"Bx","v":17.3},{"t":95,"c":"Bx","v":25.4},{"t":100,"c":"Bx","v":28.8},{"t":104,"c":"Bx","v":33.5},{"t":107,"c":"Bx","v":30.4},{"t":111,"c":"Bx","v":33.5},{"t":115,"c":"Bx","v":30.4},{"t":119,"c":"Bx","v":27.3},{"t":123,"c":"Bx","v":28.8},{"t":127,"c":"Bx","v":27.3},{"t":133,"c":"Bx","v":25.8},{"t":139,"c":"Bx","v":23.8},{"t":145,"c":"Bx","v":26.9},{"t":148,"c":"Bx","v":28.1},{"t":152,"c":"Bx","v":31.2},{"t":158,"c":"Bx","v":32.7},{"t":164,"c":"Bx","v":31.9},{"t":170,"c":"Bx","v":30.8},{"t":175,"c":"Bx","v":31.9},{"t":180,"c":"Bx","v":28.8},{"t":184,"c":"Bx","v":28.1},{"t":188,"c":"Bx","v":20.4},{"t":191,"c":"Bx","v":11.9},{"t":195,"c":"Bx","v":8.1},{"t":197,"c":"Bx","v":18.8},{"t":201,"c":"Bx","v":17.3},{"t":205,"c":"Bx","v":25.8},{"t":208,"c":"Bx","v":13.5},{"t":213,"c":"Bx","v":8.1},{"t":219,"c":"Bx","v":4.2},{"t":225,"c":"Bx","v":1.2},{"t":231,"c":"Bx","v":0.4},{"t":234,"c":"Bx","v":4.2},{"t":238,"c":"Bx","v":-0.4},{"t":244,"c":"Bx","v":-2.7},{"t":250,"c":"Bx","v":-4.2},{"t":256,"c":"Bx","v":-9.6},{"t":262,"c":"Bx","v":-16.5},{"t":268,"c":"Bx","v":-18.8},{"t":273,"c":"Bx","v":-18.1},{"t":279,"c":"Bx","v":-18.5},{"t":285,"c":"Bx","v":-16.9},{"t":293,"c":"Bx","v":-17.3},{"t":301,"c":"Bx","v":-17.7},{"t":307,"c":"Bx","v":-15.8},{"t":313,"c":"Bx","v":-13.5},{"t":318,"c":"Bx","v":-10.4},{"t":324,"c":"Bx","v":-7.3},{"t":328,"c":"Bx","v":-6.5},{"t":334,"c":"Bx","v":-11.2},{"t":338,"c":"Bx","v":-5.8},{"t":342,"c":"Bx","v":-9.6},{"t":346,"c":"Bx","v":-5},{"t":350,"c":"Bx","v":-4.2},{"t":354,"c":"Bx","v":-1.2},{"t":359,"c":"Bx","v":-1.9},{"t":363,"c":"Bx","v":2.7},{"t":365,"c":"Bx","v":12.7},{"t":368,"c":"Bx","v":8.8},{"t":371,"c":"Bx","v":11.2},{"t":374,"c":"Bx","v":18.1},{"t":377,"c":"Bx","v":8.1},{"t":381,"c":"Bx","v":2.7},{"t":387,"c":"Bx","v":3.8},{"t":393,"c":"Bx","v":4.2},{"t":399,"c":"Bx","v":3.5},{"t":404,"c":"Bx","v":4.2},{"t":410,"c":"Bx","v":3.8},{"t":416,"c":"Bx","v":4.2},{"t":420,"c":"Bx","v":3.8},
      {"t":0,"c":"By","v":5.4},{"t":6,"c":"By","v":6.5},{"t":12,"c":"By","v":5},{"t":18,"c":"By","v":2.7},{"t":23,"c":"By","v":-1.9},{"t":27,"c":"By","v":-1.5},{"t":30,"c":"By","v":5.8},{"t":34,"c":"By","v":3.5},{"t":39,"c":"By","v":1.2},{"t":43,"c":"By","v":3.5},{"t":47,"c":"By","v":-1.2},{"t":53,"c":"By","v":1.2},{"t":57,"c":"By","v":-3.5},{"t":63,"c":"By","v":-4.2},{"t":68,"c":"By","v":-3.5},{"t":74,"c":"By","v":-1.9},{"t":80,"c":"By","v":1.2},{"t":84,"c":"By","v":6.5},{"t":90,"c":"By","v":5.8},{"t":94,"c":"By","v":3.5},{"t":98,"c":"By","v":5},{"t":102,"c":"By","v":1.2},{"t":104,"c":"By","v":-5},{"t":106,"c":"By","v":-0.4},{"t":109,"c":"By","v":4.2},{"t":111,"c":"By","v":9.6},{"t":114,"c":"By","v":-1.9},{"t":119,"c":"By","v":-8.1},{"t":125,"c":"By","v":-9.6},{"t":131,"c":"By","v":-11.2},{"t":137,"c":"By","v":-12.3},{"t":143,"c":"By","v":-11.2},{"t":148,"c":"By","v":-10.4},{"t":154,"c":"By","v":-9.6},{"t":160,"c":"By","v":-7.3},{"t":166,"c":"By","v":-6.5},{"t":172,"c":"By","v":-5},{"t":178,"c":"By","v":-2.7},{"t":182,"c":"By","v":-1.9},{"t":186,"c":"By","v":2.7},{"t":189,"c":"By","v":11.9},{"t":191,"c":"By","v":23.5},{"t":194,"c":"By","v":29.6},{"t":197,"c":"By","v":24.2},{"t":199,"c":"By","v":21.2},{"t":202,"c":"By","v":11.9},{"t":205,"c":"By","v":-3.5},{"t":209,"c":"By","v":-5.8},{"t":215,"c":"By","v":-4.2},{"t":221,"c":"By","v":-0.4},{"t":227,"c":"By","v":1.2},{"t":232,"c":"By","v":2.3},{"t":238,"c":"By","v":0.4},{"t":244,"c":"By","v":-1.2},{"t":250,"c":"By","v":1.2},{"t":254,"c":"By","v":8.8},{"t":260,"c":"By","v":7.3},{"t":268,"c":"By","v":7.3},{"t":275,"c":"By","v":6.5},{"t":281,"c":"By","v":5},{"t":287,"c":"By","v":4.2},{"t":293,"c":"By","v":4.6},{"t":301,"c":"By","v":5},{"t":309,"c":"By","v":6.2},{"t":315,"c":"By","v":5.8},{"t":320,"c":"By","v":4.6},{"t":326,"c":"By","v":3.5},{"t":331,"c":"By","v":1.2},{"t":336,"c":"By","v":8.8},{"t":340,"c":"By","v":8.1},{"t":346,"c":"By","v":7.7},{"t":350,"c":"By","v":4.2},{"t":354,"c":"By","v":6.5},{"t":357,"c":"By","v":9.2},{"t":361,"c":"By","v":2.7},{"t":365,"c":"By","v":1.2},{"t":371,"c":"By","v":1.9},{"t":377,"c":"By","v":-1.2},{"t":381,"c":"By","v":-0.4},{"t":387,"c":"By","v":1.5},{"t":393,"c":"By","v":2.7},{"t":399,"c":"By","v":4.2},{"t":404,"c":"By","v":3.5},{"t":410,"c":"By","v":2.7},{"t":416,"c":"By","v":3.5},{"t":420,"c":"By","v":3.1},
      {"t":0,"c":"Bz","v":0.4},{"t":4,"c":"Bz","v":-1.9},{"t":10,"c":"Bz","v":-0.4},{"t":16,"c":"Bz","v":2.3},{"t":21,"c":"Bz","v":1.2},{"t":27,"c":"Bz","v":0},{"t":33,"c":"Bz","v":4.2},{"t":39,"c":"Bz","v":3.5},{"t":47,"c":"Bz","v":5.8},{"t":53,"c":"Bz","v":2.7},{"t":59,"c":"Bz","v":1.5},{"t":64,"c":"Bz","v":-1.9},{"t":70,"c":"Bz","v":-3.5},{"t":76,"c":"Bz","v":0.4},{"t":82,"c":"Bz","v":5.8},{"t":88,"c":"Bz","v":8.1},{"t":92,"c":"Bz","v":14.6},{"t":96,"c":"Bz","v":7.3},{"t":100,"c":"Bz","v":4.2},{"t":104,"c":"Bz","v":7.3},{"t":107,"c":"Bz","v":-0.4},{"t":113,"c":"Bz","v":-3.5},{"t":119,"c":"Bz","v":-6.5},{"t":125,"c":"Bz","v":-8.1},{"t":129,"c":"Bz","v":-5},{"t":135,"c":"Bz","v":-3.8},{"t":141,"c":"Bz","v":-3.1},{"t":147,"c":"Bz","v":0.4},{"t":152,"c":"Bz","v":-0.4},{"t":158,"c":"Bz","v":1.5},{"t":164,"c":"Bz","v":2.7},{"t":170,"c":"Bz","v":8.8},{"t":174,"c":"Bz","v":11.2},{"t":180,"c":"Bz","v":5.8},{"t":184,"c":"Bz","v":7.3},{"t":188,"c":"Bz","v":11.9},{"t":191,"c":"Bz","v":17.7},{"t":193,"c":"Bz","v":11.2},{"t":197,"c":"Bz","v":5.8},{"t":201,"c":"Bz","v":-3.5},{"t":204,"c":"Bz","v":-9.6},{"t":207,"c":"Bz","v":-14.2},{"t":211,"c":"Bz","v":-8.1},{"t":217,"c":"Bz","v":-5},{"t":223,"c":"Bz","v":-3.5},{"t":229,"c":"Bz","v":-1.9},{"t":234,"c":"Bz","v":1.2},{"t":238,"c":"Bz","v":5},{"t":242,"c":"Bz","v":1.2},{"t":248,"c":"Bz","v":-1.2},{"t":254,"c":"Bz","v":-1.9},{"t":262,"c":"Bz","v":-2.7},{"t":270,"c":"Bz","v":-3.1},{"t":277,"c":"Bz","v":-4.2},{"t":283,"c":"Bz","v":-2.7},{"t":291,"c":"Bz","v":-2.3},{"t":299,"c":"Bz","v":-1.9},{"t":307,"c":"Bz","v":-2.3},{"t":315,"c":"Bz","v":-2.7},{"t":322,"c":"Bz","v":-2.7},{"t":328,"c":"Bz","v":-0.4},{"t":332,"c":"Bz","v":1.9},{"t":338,"c":"Bz","v":0},{"t":344,"c":"Bz","v":1.2},{"t":350,"c":"Bz","v":0.4},{"t":356,"c":"Bz","v":1.2},{"t":361,"c":"Bz","v":5.8},{"t":364,"c":"Bz","v":0.4},{"t":368,"c":"Bz","v":7.3},{"t":373,"c":"Bz","v":2.7},{"t":379,"c":"Bz","v":3.5},{"t":385,"c":"Bz","v":2.3},{"t":391,"c":"Bz","v":2.7},{"t":397,"c":"Bz","v":1.5},{"t":402,"c":"Bz","v":0.4},{"t":408,"c":"Bz","v":1.2},{"t":414,"c":"Bz","v":1.5},{"t":420,"c":"Bz","v":2.3}
    ]
  },
  "concat": [
    {
      "width": 363, "height": 282,
      "layer": [
        {
          "data": {"name": "flux1"},
          "transform": [{"fold": ["e35", "e50", "e68", "e94"], "as": ["band", "flux"]}],
          "mark": {"type": "line", "clip": true, "strokeWidth": 3.5},
          "encoding": {
            "x": {"field": "t", "type": "quantitative", "scale": {"domain": [0, 420], "nice": false, "zero": false},
                  "axis": {"orient": "bottom", "values": [15,30,45,60,75,90,105,120,135,150,165,180,195,210,225,240,255,270,285,300,315,330,345,360,375,390,405], "labels": false, "title": null, "tickSize": {"condition": {"test": "datum.value % 60 === 0", "value": -11}, "value": -7}}},
            "y": {"field": "flux", "type": "quantitative", "scale": {"type": "log", "domain": [10, 10000], "nice": false},
                  "axis": {"orient": "left", "values": [10,28,46,64,82,100,280,460,640,820,1000,2800,4600,6400,8200,10000], "tickSize": {"condition": {"test": "indexof([10,100,1000,10000], datum.value) >= 0", "value": -15}, "value": -7}, "labelExpr": "datum.value == 10 ? '10' : datum.value == 100 ? '10\u00b2' : datum.value == 1000 ? '10\u00b3' : datum.value == 10000 ? '10\u2074' : ''", "labelFlush": true, "labelPadding": 26, "title": "Electron flux", "titlePadding": 12}},
            "color": {"field": "band", "type": "nominal", "scale": {"domain": ["e35","e50","e68","e94","keV","Bx","By","Bz"], "range": ["#0000ff","#ff0000","#00ff00","#ffc000","#000000","#0000ff","#ff0000","#00ff00"]}, "legend": null}
          }
        },
        {
          "data": {"values": [{"letter": "a", "cluster": "Cluster\u00a0\u00a0\u00a0\u00a0\u00a0\u00a01"}]},
          "mark": {"type": "text", "align": "left", "baseline": "alphabetic", "fontSize": 35, "fontWeight": "bold", "font": "Liberation Sans, Arial, sans-serif", "color": "#000000"},
          "encoding": {
            "x": {"datum": 35, "axis": {"orient": "top", "values": [15,30,45,60,75,90,105,120,135,150,165,180,195,210,225,240,255,270,285,300,315,330,345,360,375,390,405], "labels": false, "title": null, "tickSize": {"condition": {"test": "datum.value % 60 === 0", "value": -11}, "value": -7}}},
            "y": {"datum": 3010, "axis": {"orient": "right", "values": [10,28,46,64,82,100,280,460,640,820,1000,2800,4600,6400,8200,10000], "labels": false, "title": null, "tickSize": {"condition": {"test": "indexof([10,100,1000,10000], datum.value) >= 0", "value": -15}, "value": -7}}},
            "text": {"field": "letter"}
          }
        },
        {
          "data": {"values": [{"letter": "a", "cluster": "Cluster\u00a0\u00a0\u00a0\u00a0\u00a0\u00a01"}]},
          "mark": {"type": "text", "align": "center", "baseline": "alphabetic", "fontSize": 38, "fontWeight": "bold", "font": "Liberation Sans, Arial, sans-serif", "color": "#000000"},
          "encoding": {"x": {"datum": 210, "axis": null}, "y": {"datum": 19370, "axis": null}, "text": {"field": "cluster"}}
        }
      ],
      "resolve": {"axis": {"x": "independent", "y": "independent"}}
    },
    {
      "width": 363, "height": 282,
      "layer": [
        {
          "data": {"name": "flux2"},
          "transform": [{"fold": ["e35", "e50", "e68", "e94"], "as": ["band", "flux"]}],
          "mark": {"type": "line", "clip": true, "strokeWidth": 3.5},
          "encoding": {
            "x": {"field": "t", "type": "quantitative", "scale": {"domain": [0, 420], "nice": false, "zero": false},
                  "axis": {"orient": "bottom", "values": [15,30,45,60,75,90,105,120,135,150,165,180,195,210,225,240,255,270,285,300,315,330,345,360,375,390,405], "labels": false, "title": null, "tickSize": {"condition": {"test": "datum.value % 60 === 0", "value": -11}, "value": -7}}},
            "y": {"field": "flux", "type": "quantitative", "scale": {"type": "log", "domain": [10, 10000], "nice": false},
                  "axis": {"orient": "left", "values": [10,28,46,64,82,100,280,460,640,820,1000,2800,4600,6400,8200,10000], "labels": false, "title": null, "tickSize": {"condition": {"test": "indexof([10,100,1000,10000], datum.value) >= 0", "value": -15}, "value": -7}}},
            "color": {"field": "band", "type": "nominal", "scale": {"domain": ["e35","e50","e68","e94","keV","Bx","By","Bz"], "range": ["#0000ff","#ff0000","#00ff00","#ffc000","#000000","#0000ff","#ff0000","#00ff00"]}, "legend": null}
          }
        },
        {
          "data": {"values": [{"letter": "d", "cluster": "Cluster\u00a0\u00a0\u00a0\u00a0\u00a0\u00a02"}]},
          "mark": {"type": "text", "align": "left", "baseline": "alphabetic", "fontSize": 35, "fontWeight": "bold", "font": "Liberation Sans, Arial, sans-serif", "color": "#000000"},
          "encoding": {
            "x": {"datum": 35, "axis": {"orient": "top", "values": [15,30,45,60,75,90,105,120,135,150,165,180,195,210,225,240,255,270,285,300,315,330,345,360,375,390,405], "labels": false, "title": null, "tickSize": {"condition": {"test": "datum.value % 60 === 0", "value": -11}, "value": -7}}},
            "y": {"datum": 3010, "axis": {"orient": "right", "values": [10,28,46,64,82,100,280,460,640,820,1000,2800,4600,6400,8200,10000], "labels": false, "title": null, "tickSize": {"condition": {"test": "indexof([10,100,1000,10000], datum.value) >= 0", "value": -15}, "value": -7}}},
            "text": {"field": "letter"}
          }
        },
        {
          "data": {"values": [{"letter": "d", "cluster": "Cluster\u00a0\u00a0\u00a0\u00a0\u00a0\u00a02"}]},
          "mark": {"type": "text", "align": "center", "baseline": "alphabetic", "fontSize": 38, "fontWeight": "bold", "font": "Liberation Sans, Arial, sans-serif", "color": "#000000"},
          "encoding": {"x": {"datum": 210, "axis": null}, "y": {"datum": 19370, "axis": null}, "text": {"field": "cluster"}}
        },
        {
          "data": {"values": [{"event": "r"}]},
          "mark": {"type": "rule", "color": "#000000", "strokeWidth": 2},
          "encoding": {"x": {"datum": 317, "axis": null}, "y": {"datum": 1300, "axis": null}, "y2": {"datum": 18500000}}
        },
        {
          "data": {"values": [{"event": "r"}]},
          "mark": {"type": "point", "shape": "M-1,-2.3L1,-2.3L0,0Z", "filled": true, "color": "#000000", "opacity": 1, "size": 196},
          "encoding": {"x": {"datum": 317, "axis": null}, "y": {"datum": 1247, "axis": null}}
        },
        {
          "data": {"values": [{"event": "r"}]},
          "mark": {"type": "text", "align": "center", "baseline": "alphabetic", "fontSize": 76, "font": "Liberation Serif", "color": "#d11a2a"},
          "encoding": {"x": {"datum": 326, "axis": null}, "y": {"datum": 185000000, "axis": null}, "text": {"field": "event"}}
        }
      ],
      "resolve": {"axis": {"x": "independent", "y": "independent"}}
    },
    {
      "width": 363, "height": 282,
      "layer": [
        {
          "data": {"name": "flux3"},
          "transform": [{"fold": ["e35", "e50", "e68", "e94"], "as": ["band", "flux"]}],
          "mark": {"type": "line", "clip": true, "strokeWidth": 3.5},
          "encoding": {
            "x": {"field": "t", "type": "quantitative", "scale": {"domain": [0, 420], "nice": false, "zero": false},
                  "axis": {"orient": "bottom", "values": [15,30,45,60,75,90,105,120,135,150,165,180,195,210,225,240,255,270,285,300,315,330,345,360,375,390,405], "labels": false, "title": null, "tickSize": {"condition": {"test": "datum.value % 60 === 0", "value": -11}, "value": -7}}},
            "y": {"field": "flux", "type": "quantitative", "scale": {"type": "log", "domain": [10, 10000], "nice": false},
                  "axis": {"orient": "left", "values": [10,28,46,64,82,100,280,460,640,820,1000,2800,4600,6400,8200,10000], "labels": false, "title": null, "tickSize": {"condition": {"test": "indexof([10,100,1000,10000], datum.value) >= 0", "value": -15}, "value": -7}}},
            "color": {"field": "band", "type": "nominal", "scale": {"domain": ["e35","e50","e68","e94","keV","Bx","By","Bz"], "range": ["#0000ff","#ff0000","#00ff00","#ffc000","#000000","#0000ff","#ff0000","#00ff00"]}, "legend": null}
          }
        },
        {
          "data": {"values": [{"letter": "g", "cluster": "Cluster\u00a0\u00a0\u00a0\u00a0\u00a0\u00a03"}]},
          "mark": {"type": "text", "align": "left", "baseline": "alphabetic", "fontSize": 35, "fontWeight": "bold", "font": "Liberation Sans, Arial, sans-serif", "color": "#000000"},
          "encoding": {
            "x": {"datum": 35, "axis": {"orient": "top", "values": [15,30,45,60,75,90,105,120,135,150,165,180,195,210,225,240,255,270,285,300,315,330,345,360,375,390,405], "labels": false, "title": null, "tickSize": {"condition": {"test": "datum.value % 60 === 0", "value": -11}, "value": -7}}},
            "y": {"datum": 3010, "axis": {"orient": "right", "values": [10,28,46,64,82,100,280,460,640,820,1000,2800,4600,6400,8200,10000], "labels": false, "title": null, "tickSize": {"condition": {"test": "indexof([10,100,1000,10000], datum.value) >= 0", "value": -15}, "value": -7}}},
            "text": {"field": "letter"}
          }
        },
        {
          "data": {"values": [{"letter": "g", "cluster": "Cluster\u00a0\u00a0\u00a0\u00a0\u00a0\u00a03"}]},
          "mark": {"type": "text", "align": "center", "baseline": "alphabetic", "fontSize": 38, "fontWeight": "bold", "font": "Liberation Sans, Arial, sans-serif", "color": "#000000"},
          "encoding": {"x": {"datum": 210, "axis": null}, "y": {"datum": 19370, "axis": null}, "text": {"field": "cluster"}}
        }
      ],
      "resolve": {"axis": {"x": "independent", "y": "independent"}}
    },
    {
      "width": 363, "height": 282,
      "layer": [
        {
          "data": {"name": "flux4"},
          "transform": [{"fold": ["e35", "e50", "e68", "e94"], "as": ["band", "flux"]}],
          "mark": {"type": "line", "clip": true, "strokeWidth": 3.5},
          "encoding": {
            "x": {"field": "t", "type": "quantitative", "scale": {"domain": [0, 420], "nice": false, "zero": false},
                  "axis": {"orient": "bottom", "values": [15,30,45,60,75,90,105,120,135,150,165,180,195,210,225,240,255,270,285,300,315,330,345,360,375,390,405], "labels": false, "title": null, "tickSize": {"condition": {"test": "datum.value % 60 === 0", "value": -11}, "value": -7}}},
            "y": {"field": "flux", "type": "quantitative", "scale": {"type": "log", "domain": [10, 10000], "nice": false},
                  "axis": {"orient": "left", "values": [10,28,46,64,82,100,280,460,640,820,1000,2800,4600,6400,8200,10000], "labels": false, "title": null, "tickSize": {"condition": {"test": "indexof([10,100,1000,10000], datum.value) >= 0", "value": -15}, "value": -7}}},
            "color": {"field": "band", "type": "nominal", "scale": {"domain": ["e35","e50","e68","e94","keV","Bx","By","Bz"], "range": ["#0000ff","#ff0000","#00ff00","#ffc000","#000000","#0000ff","#ff0000","#00ff00"]}, "legend": null}
          }
        },
        {
          "data": {"values": [{"letter": "j", "cluster": "Cluster\u00a0\u00a0\u00a0\u00a0\u00a0\u00a04"}]},
          "mark": {"type": "text", "align": "left", "baseline": "alphabetic", "fontSize": 35, "fontWeight": "bold", "font": "Liberation Sans, Arial, sans-serif", "color": "#000000"},
          "encoding": {
            "x": {"datum": 35, "axis": {"orient": "top", "values": [15,30,45,60,75,90,105,120,135,150,165,180,195,210,225,240,255,270,285,300,315,330,345,360,375,390,405], "labels": false, "title": null, "tickSize": {"condition": {"test": "datum.value % 60 === 0", "value": -11}, "value": -7}}},
            "y": {"datum": 3010, "axis": {"orient": "right", "values": [10,28,46,64,82,100,280,460,640,820,1000,2800,4600,6400,8200,10000], "labels": false, "title": null, "tickSize": {"condition": {"test": "indexof([10,100,1000,10000], datum.value) >= 0", "value": -15}, "value": -7}}},
            "text": {"field": "letter"}
          }
        },
        {
          "data": {"values": [{"letter": "j", "cluster": "Cluster\u00a0\u00a0\u00a0\u00a0\u00a0\u00a04"}]},
          "mark": {"type": "text", "align": "center", "baseline": "alphabetic", "fontSize": 38, "fontWeight": "bold", "font": "Liberation Sans, Arial, sans-serif", "color": "#000000"},
          "encoding": {"x": {"datum": 210, "axis": null}, "y": {"datum": 19370, "axis": null}, "text": {"field": "cluster"}}
        },
        {
          "data": {"values": [{"event": "s"}]},
          "mark": {"type": "rule", "color": "#000000", "strokeWidth": 2},
          "encoding": {"x": {"datum": 21, "axis": null}, "y": {"datum": 1300, "axis": null}, "y2": {"datum": 18500000}}
        },
        {
          "data": {"values": [{"event": "s"}]},
          "mark": {"type": "point", "shape": "M-1,-2.3L1,-2.3L0,0Z", "filled": true, "color": "#000000", "opacity": 1, "size": 196},
          "encoding": {"x": {"datum": 21, "axis": null}, "y": {"datum": 1247, "axis": null}}
        },
        {
          "data": {"values": [{"event": "s"}]},
          "mark": {"type": "text", "align": "center", "baseline": "alphabetic", "fontSize": 76, "font": "Liberation Serif", "color": "#d11a2a"},
          "encoding": {"x": {"datum": 21, "axis": null}, "y": {"datum": 176000000, "axis": null}, "text": {"field": "event"}}
        }
      ],
      "resolve": {"axis": {"x": "independent", "y": "independent"}}
    },
    {
      "width": 26, "height": 282,
      "view": {"stroke": null},
      "data": {"values": [{"label": "35-50", "band": "e35"}, {"label": "50-68", "band": "e50"}, {"label": "68-94", "band": "e68"}, {"label": "94-127", "band": "e94"}, {"label": "keV", "band": "keV"}]},
      "mark": {"type": "text", "align": "left", "baseline": "middle", "font": "Liberation Sans, Arial, sans-serif", "fontSize": 40},
      "encoding": {
        "y": {"field": "label", "type": "nominal", "scale": {"type": "point", "domain": ["35-50", "50-68", "68-94", "94-127", "keV"], "padding": 0.255}, "axis": null},
        "text": {"field": "label"},
        "color": {"field": "band", "type": "nominal", "scale": {"domain": ["e35","e50","e68","e94","keV","Bx","By","Bz"], "range": ["#0000ff","#ff0000","#00ff00","#ffc000","#000000","#0000ff","#ff0000","#00ff00"]}, "legend": null}
      }
    },
    {
      "width": 363, "height": 282,
      "layer": [
        {
          "data": {"values": [{"ref": 0}]},
          "mark": {"type": "rule", "color": "#000000", "strokeWidth": 4},
          "encoding": {"y": {"field": "ref", "type": "quantitative", "scale": {"domain": [-24.5, 40.6], "nice": false, "zero": false}, "axis": null}}
        },
        {
          "data": {"name": "mag1"},
          "mark": {"type": "line", "clip": true, "strokeWidth": 4.5},
          "encoding": {
            "x": {"field": "t", "type": "quantitative", "scale": {"domain": [0, 420], "nice": false, "zero": false},
                  "axis": {"orient": "bottom", "values": [15,30,45,60,75,90,105,120,135,150,165,180,195,210,225,240,255,270,285,300,315,330,345,360,375,390,405], "labels": false, "title": null, "tickSize": {"condition": {"test": "datum.value % 60 === 0", "value": -11}, "value": -7}}},
            "y": {"field": "v", "type": "quantitative", "scale": {"domain": [-24.5, 40.6], "nice": false, "zero": false},
                  "axis": {"orient": "left", "values": [-24,-22,-20,-18,-16,-14,-12,-10,-8,-6,-4,-2,0,2,4,6,8,10,12,14,16,18,20,22,24,26,28,30,32,34,36,38,40], "tickSize": {"condition": {"test": "datum.value % 10 === 0", "value": -15}, "value": -7}, "labelExpr": "datum.value % 20 === 0 ? '' + datum.value : ''", "labelFlush": 5, "labelPadding": 26, "title": "B (nT)", "titlePadding": 12}},
            "color": {"field": "c", "type": "nominal", "scale": {"domain": ["e35","e50","e68","e94","keV","Bx","By","Bz"], "range": ["#0000ff","#ff0000","#00ff00","#ffc000","#000000","#0000ff","#ff0000","#00ff00"]}, "legend": null}
          }
        },
        {
          "data": {"values": [{"letter": "b"}]},
          "mark": {"type": "text", "align": "left", "baseline": "alphabetic", "fontSize": 35, "fontWeight": "bold", "font": "Liberation Sans, Arial, sans-serif", "color": "#000000"},
          "encoding": {
            "x": {"datum": 35, "axis": {"orient": "top", "values": [15,30,45,60,75,90,105,120,135,150,165,180,195,210,225,240,255,270,285,300,315,330,345,360,375,390,405], "labels": false, "title": null, "tickSize": {"condition": {"test": "datum.value % 60 === 0", "value": -11}, "value": -7}}},
            "y": {"datum": 28.8, "axis": {"orient": "right", "values": [-24,-22,-20,-18,-16,-14,-12,-10,-8,-6,-4,-2,0,2,4,6,8,10,12,14,16,18,20,22,24,26,28,30,32,34,36,38,40], "labels": false, "title": null, "tickSize": {"condition": {"test": "datum.value % 10 === 0", "value": -15}, "value": -7}}},
            "text": {"field": "letter"}
          }
        }
      ],
      "resolve": {"axis": {"x": "independent", "y": "independent"}}
    },
    {
      "width": 363, "height": 282,
      "layer": [
        {
          "data": {"values": [{"ref": 0}]},
          "mark": {"type": "rule", "color": "#000000", "strokeWidth": 4},
          "encoding": {"y": {"field": "ref", "type": "quantitative", "scale": {"domain": [-24.5, 40.6], "nice": false, "zero": false}, "axis": null}}
        },
        {
          "data": {"name": "mag2"},
          "mark": {"type": "line", "clip": true, "strokeWidth": 4.5},
          "encoding": {
            "x": {"field": "t", "type": "quantitative", "scale": {"domain": [0, 420], "nice": false, "zero": false},
                  "axis": {"orient": "bottom", "values": [15,30,45,60,75,90,105,120,135,150,165,180,195,210,225,240,255,270,285,300,315,330,345,360,375,390,405], "labels": false, "title": null, "tickSize": {"condition": {"test": "datum.value % 60 === 0", "value": -11}, "value": -7}}},
            "y": {"field": "v", "type": "quantitative", "scale": {"domain": [-24.5, 40.6], "nice": false, "zero": false},
                  "axis": {"orient": "left", "values": [-24,-22,-20,-18,-16,-14,-12,-10,-8,-6,-4,-2,0,2,4,6,8,10,12,14,16,18,20,22,24,26,28,30,32,34,36,38,40], "labels": false, "title": null, "tickSize": {"condition": {"test": "datum.value % 10 === 0", "value": -15}, "value": -7}}},
            "color": {"field": "c", "type": "nominal", "scale": {"domain": ["e35","e50","e68","e94","keV","Bx","By","Bz"], "range": ["#0000ff","#ff0000","#00ff00","#ffc000","#000000","#0000ff","#ff0000","#00ff00"]}, "legend": null}
          }
        },
        {
          "data": {"values": [{"letter": "e"}]},
          "mark": {"type": "text", "align": "left", "baseline": "alphabetic", "fontSize": 35, "fontWeight": "bold", "font": "Liberation Sans, Arial, sans-serif", "color": "#000000"},
          "encoding": {
            "x": {"datum": 35, "axis": {"orient": "top", "values": [15,30,45,60,75,90,105,120,135,150,165,180,195,210,225,240,255,270,285,300,315,330,345,360,375,390,405], "labels": false, "title": null, "tickSize": {"condition": {"test": "datum.value % 60 === 0", "value": -11}, "value": -7}}},
            "y": {"datum": 28.8, "axis": {"orient": "right", "values": [-24,-22,-20,-18,-16,-14,-12,-10,-8,-6,-4,-2,0,2,4,6,8,10,12,14,16,18,20,22,24,26,28,30,32,34,36,38,40], "labels": false, "title": null, "tickSize": {"condition": {"test": "datum.value % 10 === 0", "value": -15}, "value": -7}}},
            "text": {"field": "letter"}
          }
        }
      ],
      "resolve": {"axis": {"x": "independent", "y": "independent"}}
    },
    {
      "width": 363, "height": 282,
      "layer": [
        {
          "data": {"values": [{"ref": 0}]},
          "mark": {"type": "rule", "color": "#000000", "strokeWidth": 4},
          "encoding": {"y": {"field": "ref", "type": "quantitative", "scale": {"domain": [-24.5, 40.6], "nice": false, "zero": false}, "axis": null}}
        },
        {
          "data": {"name": "mag3"},
          "mark": {"type": "line", "clip": true, "strokeWidth": 4.5},
          "encoding": {
            "x": {"field": "t", "type": "quantitative", "scale": {"domain": [0, 420], "nice": false, "zero": false},
                  "axis": {"orient": "bottom", "values": [15,30,45,60,75,90,105,120,135,150,165,180,195,210,225,240,255,270,285,300,315,330,345,360,375,390,405], "labels": false, "title": null, "tickSize": {"condition": {"test": "datum.value % 60 === 0", "value": -11}, "value": -7}}},
            "y": {"field": "v", "type": "quantitative", "scale": {"domain": [-24.5, 40.6], "nice": false, "zero": false},
                  "axis": {"orient": "left", "values": [-24,-22,-20,-18,-16,-14,-12,-10,-8,-6,-4,-2,0,2,4,6,8,10,12,14,16,18,20,22,24,26,28,30,32,34,36,38,40], "labels": false, "title": null, "tickSize": {"condition": {"test": "datum.value % 10 === 0", "value": -15}, "value": -7}}},
            "color": {"field": "c", "type": "nominal", "scale": {"domain": ["e35","e50","e68","e94","keV","Bx","By","Bz"], "range": ["#0000ff","#ff0000","#00ff00","#ffc000","#000000","#0000ff","#ff0000","#00ff00"]}, "legend": null}
          }
        },
        {
          "data": {"values": [{"letter": "h"}]},
          "mark": {"type": "text", "align": "left", "baseline": "alphabetic", "fontSize": 35, "fontWeight": "bold", "font": "Liberation Sans, Arial, sans-serif", "color": "#000000"},
          "encoding": {
            "x": {"datum": 35, "axis": {"orient": "top", "values": [15,30,45,60,75,90,105,120,135,150,165,180,195,210,225,240,255,270,285,300,315,330,345,360,375,390,405], "labels": false, "title": null, "tickSize": {"condition": {"test": "datum.value % 60 === 0", "value": -11}, "value": -7}}},
            "y": {"datum": 28.8, "axis": {"orient": "right", "values": [-24,-22,-20,-18,-16,-14,-12,-10,-8,-6,-4,-2,0,2,4,6,8,10,12,14,16,18,20,22,24,26,28,30,32,34,36,38,40], "labels": false, "title": null, "tickSize": {"condition": {"test": "datum.value % 10 === 0", "value": -15}, "value": -7}}},
            "text": {"field": "letter"}
          }
        }
      ],
      "resolve": {"axis": {"x": "independent", "y": "independent"}}
    },
    {
      "width": 363, "height": 282,
      "layer": [
        {
          "data": {"values": [{"ref": 0}]},
          "mark": {"type": "rule", "color": "#000000", "strokeWidth": 4},
          "encoding": {"y": {"field": "ref", "type": "quantitative", "scale": {"domain": [-24.5, 40.6], "nice": false, "zero": false}, "axis": null}}
        },
        {
          "data": {"name": "mag4"},
          "mark": {"type": "line", "clip": true, "strokeWidth": 4.5},
          "encoding": {
            "x": {"field": "t", "type": "quantitative", "scale": {"domain": [0, 420], "nice": false, "zero": false},
                  "axis": {"orient": "bottom", "values": [15,30,45,60,75,90,105,120,135,150,165,180,195,210,225,240,255,270,285,300,315,330,345,360,375,390,405], "labels": false, "title": null, "tickSize": {"condition": {"test": "datum.value % 60 === 0", "value": -11}, "value": -7}}},
            "y": {"field": "v", "type": "quantitative", "scale": {"domain": [-24.5, 40.6], "nice": false, "zero": false},
                  "axis": {"orient": "left", "values": [-24,-22,-20,-18,-16,-14,-12,-10,-8,-6,-4,-2,0,2,4,6,8,10,12,14,16,18,20,22,24,26,28,30,32,34,36,38,40], "labels": false, "title": null, "tickSize": {"condition": {"test": "datum.value % 10 === 0", "value": -15}, "value": -7}}},
            "color": {"field": "c", "type": "nominal", "scale": {"domain": ["e35","e50","e68","e94","keV","Bx","By","Bz"], "range": ["#0000ff","#ff0000","#00ff00","#ffc000","#000000","#0000ff","#ff0000","#00ff00"]}, "legend": null}
          }
        },
        {
          "data": {"values": [{"letter": "k"}]},
          "mark": {"type": "text", "align": "left", "baseline": "alphabetic", "fontSize": 35, "fontWeight": "bold", "font": "Liberation Sans, Arial, sans-serif", "color": "#000000"},
          "encoding": {
            "x": {"datum": 35, "axis": {"orient": "top", "values": [15,30,45,60,75,90,105,120,135,150,165,180,195,210,225,240,255,270,285,300,315,330,345,360,375,390,405], "labels": false, "title": null, "tickSize": {"condition": {"test": "datum.value % 60 === 0", "value": -11}, "value": -7}}},
            "y": {"datum": 28.8, "axis": {"orient": "right", "values": [-24,-22,-20,-18,-16,-14,-12,-10,-8,-6,-4,-2,0,2,4,6,8,10,12,14,16,18,20,22,24,26,28,30,32,34,36,38,40], "labels": false, "title": null, "tickSize": {"condition": {"test": "datum.value % 10 === 0", "value": -15}, "value": -7}}},
            "text": {"field": "letter"}
          }
        }
      ],
      "resolve": {"axis": {"x": "independent", "y": "independent"}}
    },
    {
      "width": 26, "height": 282,
      "view": {"stroke": null},
      "data": {"values": [{"comp": "Bx", "sym": "B", "sub": "x"}, {"comp": "By", "sym": "B", "sub": "y"}, {"comp": "Bz", "sym": "B", "sub": "z"}]},
      "encoding": {
        "y": {"field": "comp", "type": "nominal", "scale": {"type": "point", "domain": ["Bx", "By", "Bz"], "padding": 1.203, "align": 0.526}, "axis": null},
        "color": {"field": "comp", "type": "nominal", "scale": {"domain": ["e35","e50","e68","e94","keV","Bx","By","Bz"], "range": ["#0000ff","#ff0000","#00ff00","#ffc000","#000000","#0000ff","#ff0000","#00ff00"]}, "legend": null}
      },
      "layer": [
        {"mark": {"type": "text", "align": "left", "baseline": "middle", "dx": 3, "font": "Liberation Sans, Arial, sans-serif", "fontSize": 40}, "encoding": {"text": {"field": "sym"}}},
        {"mark": {"type": "text", "align": "left", "baseline": "middle", "dx": 29, "dy": 17, "font": "Liberation Sans, Arial, sans-serif", "fontSize": 28}, "encoding": {"text": {"field": "sub"}}}
      ]
    }
  ],
  "columns": 5,
  "spacing": {"row": 25, "column": 15},
  "bounds": "flush",
  "align": "each"
}
